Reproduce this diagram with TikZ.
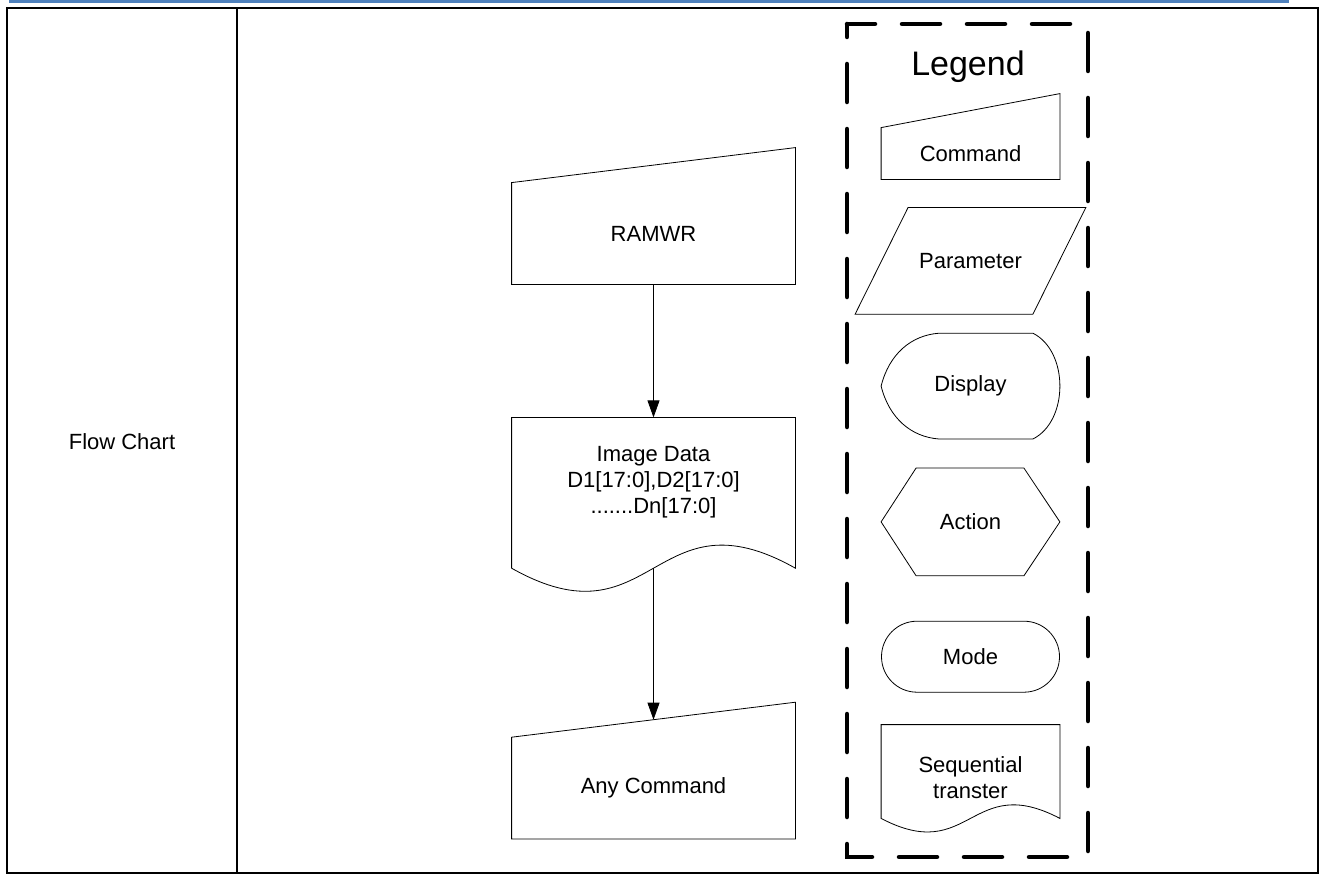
\documentclass[tikz,border=0pt]{standalone}
\usepackage{fontspec}
\setmainfont{Liberation Sans}
\usepackage{tikz}
\usetikzlibrary{positioning,calc,arrows.meta,shapes.misc}

\definecolor{headblue}{RGB}{79,129,189}

\begin{document}
\begin{tikzpicture}[x=1pt, y=-1pt, line width=0.8pt,
    >={Triangle[width=12pt,length=17pt]},
    txt/.style={font=\fontsize{22}{26}\selectfont, align=center, inner sep=0pt},
    flowbox/.style={txt, minimum width=283pt},
    keybox/.style={txt, minimum width=178pt},
    frame/.style={line width=2.5pt},
    keyframe/.style={line width=4.5pt, line cap=round, dash pattern=on 38pt off 27pt, dash phase=25pt}]

    \useasboundingbox (0,0) rectangle (1323,875);

    % page rule and table
    \draw[headblue, line width=3pt] (9,1.5) -- (1289,1.5);
    \draw[frame] (7,8) rectangle (1318,873);
    \draw[frame] (237,8) -- (237,873);
    \node[txt] (F) at (122,442) {Flow Chart};

    % flow
    \node[flowbox, minimum height=101pt] (R) at (653.5,233.5) {RAMWR};
    \node[flowbox, minimum height=128pt, below=133pt of R] (Img) {Image Data\\D1[17:0],D2[17:0]\\.......Dn[17:0]};
    \node[flowbox, minimum height=101pt, below=191pt of Img] (Any) {Any Command};
    \coordinate (ImgOut) at ($(Img.south)+(0,22)$);
    \coordinate (AnyIn) at ($(Any.north)+(0,-17.5)$);

    \draw (R.south west) -- (R.north west) -- ($(R.north east)+(0,-35)$) -- (R.south east) -- cycle;
    \draw (Img.north west) -- (Img.north east) -- ($(Img.south east)+(0,22)$)
        .. controls ($(Img.south)+(0,-58)$) and ($(Img.south)+(0,102)$) .. ($(Img.south west)+(0,22)$) -- cycle;
    \draw (Any.south west) -- (Any.north west) -- ($(Any.north east)+(0,-35)$) -- (Any.south east) -- cycle;

    \draw[->] (R) -- (Img);
    \draw[->] (ImgOut) -- (AnyIn);

    % legend
    \draw[keyframe] (847,24) rectangle (1088,857);
    \node[txt, font=\fontsize{34}{40}\selectfont] (Leg) at (968,67) {Legend};
    \node[keybox, minimum height=51pt] (Cmd) at (970.5,153.5) {Command};
    \node[keybox, minimum width=230pt, minimum height=106pt, below=28pt of Cmd] (Par) {Parameter};
    \node[keybox, minimum height=105pt, below=19pt of Par] (Dis) {Display};
    \node[keybox, minimum height=107pt, below=29pt of Dis] (Act) {Action};
    \node[keybox, rounded rectangle, draw, minimum height=71pt, below=45pt of Act] (Mod) {Mode};
    \node[keybox, minimum height=105pt, below=32pt of Mod] (Seq) {Sequential\\transter};

    \draw (Cmd.south west) -- (Cmd.north west) -- ($(Cmd.north east)+(0,-34)$) -- (Cmd.south east) -- cycle;
    \draw (Par.south west) -- ($(Par.north west)+(53,0)$) -- (Par.north east) -- ($(Par.south east)+(-53,0)$) -- cycle;
    \draw (Dis.west) .. controls ($(Dis.west)+(8,-32)$) and ($(Dis.north west)+(30,2)$) .. ($(Dis.north west)+(58,0)$)
        -- ($(Dis.north east)+(-27,0)$) .. controls ($(Dis.north east)+(9,18)$) and ($(Dis.south east)+(9,-18)$) .. ($(Dis.south east)+(-27,0)$)
        -- ($(Dis.south west)+(58,0)$) .. controls ($(Dis.south west)+(30,-2)$) and ($(Dis.west)+(8,32)$) .. (Dis.west);
    \draw (Act.west) -- ($(Act.north west)+(35,0)$) -- ($(Act.north east)+(-36,0)$) -- (Act.east)
        -- ($(Act.south east)+(-36,0)$) -- ($(Act.south west)+(35,0)$) -- cycle;
    \draw (Seq.north west) -- (Seq.north east) -- ($(Seq.south east)+(0,-12)$)
        .. controls ($(Seq.south)+(0,-59)$) and ($(Seq.south)+(0,35)$) .. ($(Seq.south west)+(0,-12)$) -- cycle;
\end{tikzpicture}
\end{document}
